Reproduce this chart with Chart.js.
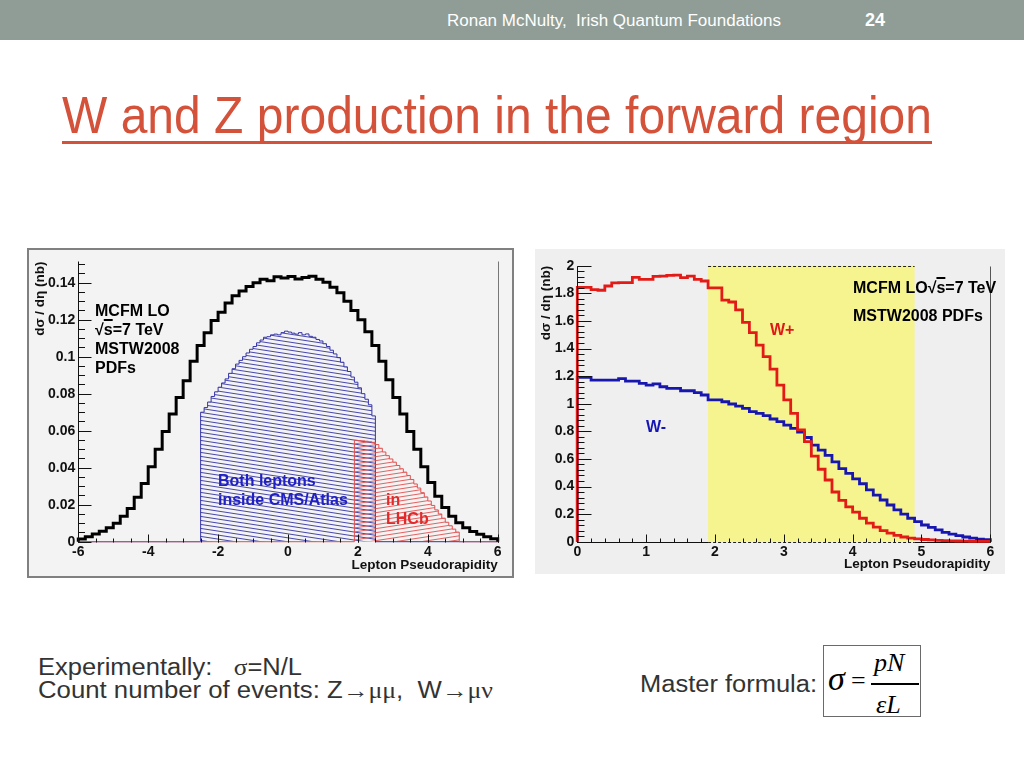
<!DOCTYPE html>
<html><head><meta charset="utf-8">
<script src="https://cdn.jsdelivr.net/npm/chart.js@4.4.1/dist/chart.umd.min.js"></script>
<style>
html,body{margin:0;padding:0}
body{width:1024px;height:768px;position:relative;overflow:hidden;background:#fff;font-family:'Liberation Sans',Arial,Helvetica,sans-serif}
.abs{position:absolute;white-space:pre}
.ann{position:absolute;white-space:pre;font-weight:bold;font-size:16px;line-height:19px;font-family:'Liberation Sans',Arial,sans-serif}
.ov{text-decoration:overline;text-decoration-thickness:1.5px}
.gr{font-family:'Liberation Serif','DejaVu Serif',serif}
.fx{position:absolute;white-space:pre;font-family:'Liberation Serif','Times New Roman',serif;font-style:italic;color:#000}
</style></head><body>
<div class="abs" style="left:0;top:0;width:1024px;height:40px;background:#8f9d96"></div>
<div id="hdr" class="abs" style="left:447px;top:12px;font-size:16px;line-height:18px;color:#fff">Ronan McNulty,  Irish Quantum Foundations</div>
<div class="abs" style="left:865px;top:10px;font-size:18px;line-height:20px;color:#fff;font-weight:bold">24</div>
<div id="title" class="abs" style="left:62px;top:89px;font-size:52px;line-height:52px;color:#d4513a;text-decoration:underline;text-decoration-thickness:3px;text-underline-offset:8px;text-decoration-skip-ink:none">W and Z production in the forward region</div>

<div style="position:absolute;left:27px;top:248px;width:483px;height:326px;border:2px solid #808080;background:#f3f3f3"></div>
<canvas id="c1" width="483" height="326" style="position:absolute;left:29px;top:250px"></canvas>
<canvas id="c2" width="470" height="325" style="position:absolute;left:535px;top:249px;background:#efefef"></canvas>

<div class="ann" style="left:95px;top:301.4px;color:#000">MCFM LO
√<span class="ov">s</span>=7 TeV
MSTW2008
PDFs</div>
<div class="ann" style="left:218px;top:470.7px;color:#2020c4">Both leptons
inside CMS/Atlas</div>
<div class="ann" style="left:386px;top:489.7px;color:#e22a2a">in
LHCb</div>
<div class="ann" style="left:853px;top:278.4px;color:#000">MCFM LO√<span class="ov">s</span>=7 TeV</div>
<div class="ann" style="left:853px;top:305.7px;color:#000">MSTW2008 PDFs</div>
<div class="ann" style="left:770px;top:319.7px;color:#e01818">W+</div>
<div class="ann" style="left:646px;top:416.7px;color:#1616b4">W-</div>

<div id="b1" class="abs" style="left:38px;top:655px;font-size:23px;line-height:24px;color:#333">Experimentally:   <span class="gr">σ</span>=N/L</div>
<div id="b2" class="abs" style="left:38px;top:678.3px;font-size:23px;line-height:24px;color:#333">Count number of events: Z<span class="gr">→μμ</span>,  W<span class="gr">→μν</span></div>
<div id="b3" class="abs" style="left:640px;top:671.7px;font-size:23px;line-height:24px;color:#333">Master formula:</div>
<div style="position:absolute;left:823px;top:645px;width:96px;height:70px;border:1px solid #6a6a6a;background:#fff">
  <div class="fx" style="left:4px;top:16px;font-size:34px;line-height:34px">σ</div>
  <div class="fx" style="left:27px;top:22px;font-size:26px;line-height:26px;font-style:normal">=</div>
  <div class="fx" style="left:50px;top:4px;font-size:26px;line-height:26px">pN</div>
  <div style="position:absolute;left:47px;top:37px;width:48px;height:1.5px;background:#000"></div>
  <div class="fx" style="left:52px;top:46px;font-size:26px;line-height:26px">εL</div>
</div>

<script>
// ---------------- data: left chart (Z -> mu mu) ----------------
const leftXMin = -6, leftXMax = 6, leftYMin = 0, leftYMax = 0.1515;
const leftXTicks = [-6, -4, -2, 0, 2, 4, 6];
const leftXTickLabels = ['-6', '-4', '-2', '0', '2', '4', '6'];
const leftYTicks = [0, 0.02, 0.04, 0.06, 0.08, 0.1, 0.12, 0.14];
const leftYTickLabels = ['0', '0.02', '0.04', '0.06', '0.08', '0.1', '0.12', '0.14'];

const zAllStart = -6, zAllWidth = 0.2;
const zAll = [
  0.0015, 0.0027, 0.0041, 0.0056, 0.0076, 0.0100, 0.0138, 0.0180, 0.0240, 0.0315,
  0.0405, 0.0500, 0.0595, 0.0690, 0.0780, 0.0870, 0.0975, 0.1060, 0.1130, 0.1195,
  0.1240, 0.1290, 0.1330, 0.1355, 0.1380, 0.1400, 0.1418, 0.1410, 0.1432, 0.1425,
  0.1433, 0.1420, 0.1428, 0.1435, 0.1418, 0.1402, 0.1375, 0.1345, 0.1300, 0.1250,
  0.1200, 0.1135, 0.1060, 0.0975, 0.0875, 0.0780, 0.0690, 0.0595, 0.0500, 0.0405,
  0.0320, 0.0245, 0.0185, 0.0138, 0.0102, 0.0075, 0.0055, 0.0040, 0.0027, 0.0016
];
const zCmsStart = -2.5, zCmsWidth = 0.1;
const zCms = [
  0.0700, 0.0725, 0.0755, 0.0785, 0.0810, 0.0835, 0.0858, 0.0880, 0.0910, 0.0935,
  0.0960, 0.0980, 0.1000, 0.1020, 0.1040, 0.1055, 0.1075, 0.1090, 0.1105, 0.1108,
  0.1118, 0.1122, 0.1118, 0.1130, 0.1138, 0.1133, 0.1127, 0.1122, 0.1130, 0.1118,
  0.1123, 0.1110, 0.1105, 0.1093, 0.1085, 0.1070, 0.1055, 0.1035, 0.1015, 0.0995,
  0.0970, 0.0945, 0.0920, 0.0890, 0.0862, 0.0832, 0.0800, 0.0770, 0.0740, 0.0680
];
const zLhcbStart = 1.9, zLhcbWidth = 0.1;
const zLhcb = [
  0.0548, 0.0546, 0.0545, 0.0543, 0.0540, 0.0537, 0.0525, 0.0505, 0.0485, 0.0465,
  0.0447, 0.0430, 0.0412, 0.0394, 0.0376, 0.0358, 0.0336, 0.0312, 0.0290, 0.0265,
  0.0242, 0.0220, 0.0196, 0.0172, 0.0150, 0.0127, 0.0105, 0.0086, 0.0068, 0.0052
];

// ---------------- data: right chart (W+ / W-) ----------------
const rightXMin = 0, rightXMax = 6, rightYMin = 0, rightYMax = 2;
const rightXTicks = [0, 1, 2, 3, 4, 5, 6];
const rightXTickLabels = ['0', '1', '2', '3', '4', '5', '6'];
const rightYTicks = [0, 0.2, 0.4, 0.6, 0.8, 1, 1.2, 1.4, 1.6, 1.8, 2];
const rightYTickLabels = ['0', '0.2', '0.4', '0.6', '0.8', '1', '1.2', '1.4', '1.6', '1.8', '2'];
const lhcbBand = [1.9, 4.9];

const wStart = 0, wWidth = 0.1;
const wPlus = [
  1.843, 1.843, 1.826, 1.822, 1.853, 1.875, 1.877, 1.877, 1.915, 1.901,
  1.901, 1.922, 1.925, 1.930, 1.932, 1.913, 1.925, 1.901, 1.889, 1.840,
  1.840, 1.751, 1.737, 1.680, 1.590, 1.515, 1.425, 1.341, 1.250, 1.135,
  1.027, 0.930, 0.810, 0.725, 0.620, 0.525, 0.447, 0.360, 0.300, 0.252,
  0.215, 0.170, 0.135, 0.105, 0.080, 0.062, 0.046, 0.034, 0.026, 0.020,
  0.016, 0.013, 0.010, 0.008, 0.006, 0.005, 0.004, 0.003, 0.002, 0.002
];
const wMinus = [
  1.191, 1.191, 1.171, 1.171, 1.171, 1.171, 1.181, 1.164, 1.164, 1.147,
  1.135, 1.143, 1.123, 1.111, 1.111, 1.094, 1.094, 1.080, 1.063, 1.027,
  1.027, 1.014, 0.998, 0.983, 0.966, 0.942, 0.930, 0.913, 0.889, 0.870,
  0.845, 0.821, 0.795, 0.755, 0.700, 0.664, 0.625, 0.578, 0.530, 0.495,
  0.455, 0.420, 0.375, 0.338, 0.302, 0.266, 0.230, 0.200, 0.170, 0.145,
  0.121, 0.104, 0.085, 0.068, 0.055, 0.044, 0.034, 0.026, 0.019, 0.014
];

// ---------------- helpers ----------------
Chart.defaults.font.family = "'Liberation Sans', Arial, Helvetica, sans-serif";
Chart.defaults.color = '#111';

function hist(start, width, vals, xMin, xMax) {
  const pts = [{x: xMin, y: 0}, {x: start, y: 0}];
  vals.forEach((v, i) => pts.push({x: +(start + i * width).toFixed(4), y: v}));
  const end = +(start + vals.length * width).toFixed(4);
  pts.push({x: end, y: vals[vals.length - 1]});
  pts.push({x: end, y: 0});
  if (end < xMax) pts.push({x: xMax, y: 0});
  return pts;
}
function hatch(color, dir) {
  const w = 26, h = 4;
  const c = document.createElement('canvas'); c.width = w; c.height = h;
  const g = c.getContext('2d'); g.strokeStyle = color; g.lineWidth = 1;
  g.beginPath();
  for (let k = -1; k <= 1; k++) {
    if (dir > 0) { g.moveTo(0, k * h + h); g.lineTo(w, k * h); }
    else { g.moveTo(0, k * h); g.lineTo(w, k * h + h); }
  }
  g.stroke();
  return g.createPattern(c, 'repeat');
}
function steps(min, max, step) { const a = []; for (let v = min; v <= max + 1e-9; v += step) a.push(+v.toFixed(5)); return a; }

function axisPlugin(cfg) {
  return {
    id: 'rootAxes' + cfg.id,
    afterDatasetsDraw(chart) {
      const {ctx, chartArea: a, scales: {x, y}} = chart;
      const L = Math.round(a.left) + 0.5, B = Math.round(a.bottom) + 0.5, R = Math.round(a.right) + 0.5, T = Math.round(a.top) + 0.5;
      ctx.save();
      ctx.lineWidth = 1;
      ctx.strokeStyle = cfg.frameColor;
      ctx.beginPath(); ctx.moveTo(R, T); ctx.lineTo(R, B); ctx.stroke();
      ctx.strokeStyle = '#111';
      ctx.beginPath();
      ctx.moveTo(L, T); ctx.lineTo(L, B);
      cfg.yMinor.forEach(v => { const p = Math.round(y.getPixelForValue(v)) + 0.5; ctx.moveTo(L, p); ctx.lineTo(L + cfg.yMinLen, p); });
      cfg.yMajor.forEach(v => { const p = Math.round(y.getPixelForValue(v)) + 0.5; ctx.moveTo(L, p); ctx.lineTo(L + cfg.yMajLen, p); });
      cfg.xMinor.forEach(v => { const p = Math.round(x.getPixelForValue(v)) + 0.5; ctx.moveTo(p, B); ctx.lineTo(p, B - cfg.xMinLen); });
      cfg.xMajor.forEach(v => { const p = Math.round(x.getPixelForValue(v)) + 0.5; ctx.moveTo(p, B); ctx.lineTo(p, B - cfg.xMajLen); });
      ctx.stroke();
      ctx.restore();
    }
  };
}
const bandPlugin = {
  id: 'lhcbBand',
  beforeDatasetsDraw(chart) {
    const {ctx, chartArea: a, scales: {x, y}} = chart;
    const x0 = x.getPixelForValue(lhcbBand[0]), x1 = x.getPixelForValue(lhcbBand[1]);
    const yt = y.getPixelForValue(rightYMax), yb = y.getPixelForValue(rightYMin);
    const B = Math.round(yb) + 0.5, T = Math.round(yt) + 0.5;
    ctx.save();
    ctx.strokeStyle = '#111'; ctx.lineWidth = 1;
    ctx.beginPath(); ctx.moveTo(a.left, B); ctx.lineTo(x0, B); ctx.moveTo(x1, B); ctx.lineTo(a.right, B); ctx.stroke();
    ctx.fillStyle = '#f6f48e';
    ctx.fillRect(x0, yt, x1 - x0, yb - yt);
    ctx.setLineDash([3, 2]);
    ctx.strokeStyle = '#222';
    ctx.beginPath(); ctx.moveTo(x0, T); ctx.lineTo(x1, T); ctx.moveTo(x0, B); ctx.lineTo(x1, B); ctx.stroke();
    ctx.restore();
  }
};

function scaleCfg(o) {
  return {
    type: 'linear', min: o.min, max: o.max, bounds: 'data', position: o.position,
    afterBuildTicks: s => { s.ticks = o.ticks.map(v => ({value: v})); },
    afterFit: s => { if (o.position === 'bottom') s.height = o.size; else s.width = o.size; },
    ticks: { callback: (v, i) => o.labels[i], font: {size: 14, weight: 'bold'}, color: '#111', padding: o.pad, maxRotation: 0, autoSkip: false },
    grid: { display: false, drawTicks: false },
    border: { display: false },
    title: { display: true, text: o.title, align: 'end', font: {size: 13.5, weight: 'bold'}, color: '#111',
             padding: o.position === 'bottom' ? {top: 0, bottom: o.tpad} : {top: o.tpad, bottom: 0} }
  };
}

// ---------------- left chart ----------------
new Chart(document.getElementById('c1'), {
  type: 'line',
  data: { datasets: [
    { label: 'all', data: hist(zAllStart, zAllWidth, zAll, leftXMin, leftXMax), borderColor: '#000', borderWidth: 3,
      stepped: true, pointRadius: 0, fill: false, order: 0, clip: false, borderJoinStyle: 'miter' },
    { label: 'LHCb', data: hist(zLhcbStart, zLhcbWidth, zLhcb, leftXMin, leftXMax), borderColor: '#e05050', borderWidth: 1,
      stepped: true, pointRadius: 0, fill: 'origin', backgroundColor: hatch('rgba(226,70,70,0.85)', 1), order: 1, clip: false },
    { label: 'CMS/Atlas', data: hist(zCmsStart, zCmsWidth, zCms, leftXMin, leftXMax), borderColor: '#3434a8', borderWidth: 1,
      stepped: true, pointRadius: 0, fill: 'origin', backgroundColor: hatch('rgba(40,40,160,0.85)', -1), order: 2, clip: false }
  ]},
  options: {
    responsive: false, animation: false, events: [],
    layout: { padding: {top: 8, right: 14.3, left: 0, bottom: 0} },
    plugins: { legend: {display: false}, tooltip: {enabled: false} },
    scales: {
      x: scaleCfg({min: leftXMin, max: leftXMax, position: 'bottom', ticks: leftXTicks, labels: leftXTickLabels, size: 34.3, pad: 2, title: 'Lepton Pseudorapidity', tpad: 3}),
      y: scaleCfg({min: leftYMin, max: leftYMax, position: 'left', ticks: leftYTicks, labels: leftYTickLabels, size: 49.3, pad: 3, title: 'dσ / dη (nb)', tpad: 3.5})
    }
  },
  plugins: [axisPlugin({id: 1, frameColor: '#777',
    yMajor: leftYTicks, yMinor: steps(0, 0.15, 0.005), yMajLen: 13, yMinLen: 6.5,
    xMajor: leftXTicks, xMinor: steps(-6, 6, 0.5), xMajLen: 8, xMinLen: 4})]
});

// ---------------- right chart ----------------
new Chart(document.getElementById('c2'), {
  type: 'line',
  data: { datasets: [
    { label: 'W+', data: hist(wStart, wWidth, wPlus, rightXMin, rightXMax), borderColor: '#e31b17', borderWidth: 2.8,
      stepped: true, pointRadius: 0, fill: false, order: 0, clip: false, borderJoinStyle: 'miter' },
    { label: 'W-', data: hist(wStart, wWidth, wMinus, rightXMin, rightXMax), borderColor: '#1717b0', borderWidth: 2.8,
      stepped: true, pointRadius: 0, fill: false, order: 1, clip: false, borderJoinStyle: 'miter' }
  ]},
  options: {
    responsive: false, animation: false, events: [],
    layout: { padding: {top: 16.7, right: 14.7, left: 0, bottom: 0} },
    plugins: { legend: {display: false}, tooltip: {enabled: false} },
    scales: {
      x: scaleCfg({min: rightXMin, max: rightXMax, position: 'bottom', ticks: rightXTicks, labels: rightXTickLabels, size: 32.3, pad: 2, title: 'Lepton Pseudorapidity', tpad: 1.2}),
      y: scaleCfg({min: rightYMin, max: rightYMax, position: 'left', ticks: rightYTicks, labels: rightYTickLabels, size: 42.3, pad: 3, title: 'dσ / dη (nb)', tpad: 3.5})
    }
  },
  plugins: [bandPlugin, axisPlugin({id: 2, frameColor: '#555',
    yMajor: rightYTicks, yMinor: steps(0, 2, 0.04), yMajLen: 14, yMinLen: 7,
    xMajor: rightXTicks, xMinor: steps(0, 6, 0.2), xMajLen: 8, xMinLen: 4})]
});

// ---------------- fit slide text widths ----------------
function fit(id, target) {
  const el = document.getElementById(id);
  el.style.transformOrigin = '0 0';
  const w = el.getBoundingClientRect().width;
  if (w > 0) el.style.transform = 'scaleX(' + (target / w) + ')';
}
fit('title', 870);
fit('hdr', 334);
fit('b1', 264);
fit('b2', 455);
fit('b3', 177);
</script>
</body></html>
